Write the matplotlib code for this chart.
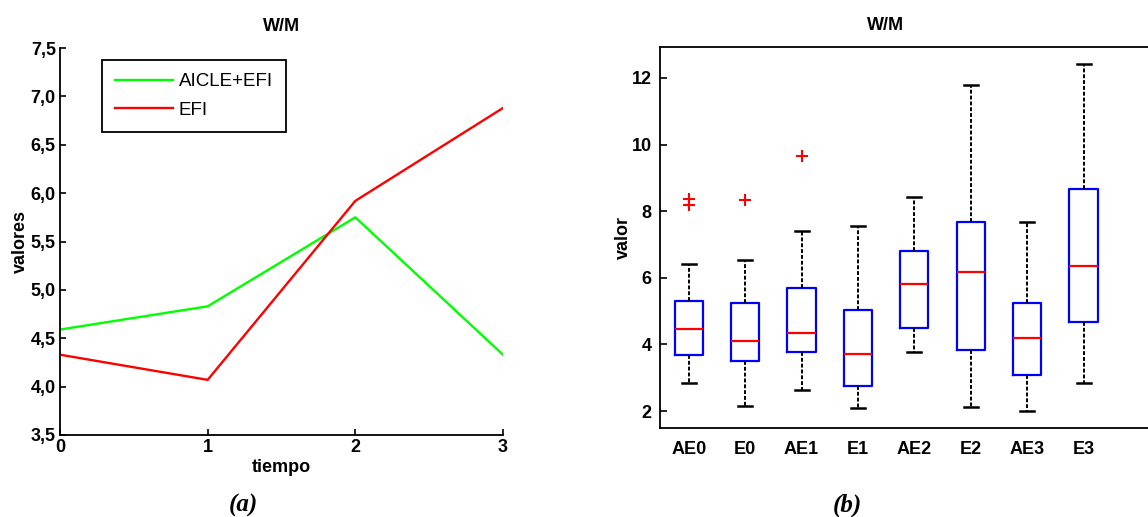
import matplotlib
matplotlib.use("Agg")
import matplotlib.pyplot as plt
from matplotlib.ticker import FuncFormatter

plt.rcParams["font.family"] = ["Liberation Sans", "DejaVu Sans"]

# left panel: mean value per time point
tiempo = [0, 1, 2, 3]
aicle_efi = [4.59, 4.83, 5.75, 4.33]
efi = [4.33, 4.07, 5.92, 6.88]

# right panel: box statistics
groups = ["AE0", "E0", "AE1", "E1", "AE2", "E2", "AE3", "E3"]
whislo = [2.84, 2.16, 2.64, 2.08, 3.76, 2.12, 2.00, 2.84]
q1 = [3.67, 3.49, 3.76, 2.76, 4.48, 3.84, 3.08, 4.68]
med = [4.46, 4.10, 4.35, 3.72, 5.82, 6.18, 4.20, 6.36]
q3 = [5.29, 5.24, 5.68, 5.04, 6.80, 7.69, 5.24, 8.68]
whishi = [6.41, 6.53, 7.41, 7.56, 8.44, 11.80, 7.69, 12.41]
fliers = [[8.20, 8.36], [8.35], [9.65], [], [], [], [], []]

W, H = 1148, 517
fig = plt.figure(figsize=(W / 100, H / 100), dpi=100)


def frac(x0, y_top, x1, y_bot):
    return [x0 / W, 1 - y_bot / H, (x1 - x0) / W, (y_bot - y_top) / H]


bold = dict(fontsize=13, fontweight="bold")

# ---- (a) line chart
ax1 = fig.add_axes(frac(60, 48, 503, 435))
ax1.plot(tiempo, aicle_efi, color=(0, 1, 0), lw=1.7, label="AICLE+EFI")
ax1.plot(tiempo, efi, color=(1, 0, 0), lw=1.7, label="EFI")
ax1.set_xlim(0, 3)
ax1.set_ylim(3.5, 7.5)
ax1.set_xticks(tiempo)
ax1.set_yticks([3.5 + 0.5 * i for i in range(9)])
ax1.yaxis.set_major_formatter(FuncFormatter(lambda v, p: f"{v:.1f}".replace(".", ",")))
for s in ("top", "right"):
    ax1.spines[s].set_visible(False)
for s in ("left", "bottom"):
    ax1.spines[s].set_linewidth(1.3)
ax1.tick_params(direction="in", length=4, width=1.2, labelsize=13, pad=3)
for lab in ax1.get_xticklabels() + ax1.get_yticklabels():
    lab.set_fontweight("bold")
ax1.set_xlabel("tiempo", labelpad=2, **bold)
ax1.set_ylabel("valores", labelpad=1, **bold)
ax1.set_title("W/M", pad=12, **bold)
leg = ax1.legend(loc="upper left", bbox_to_anchor=(102 / W, 1 - 60 / H),
                 bbox_transform=fig.transFigure, borderaxespad=0,
                 fontsize=13.5, handlelength=3.1, handletextpad=0.3,
                 labelspacing=0.6, borderpad=0.7, fancybox=False,
                 framealpha=1, edgecolor="black")
leg.get_frame().set_linewidth(1.3)

# ---- (b) box plot
ax2 = fig.add_axes(frac(660, 47, 1170, 428))
stats = []
for i, g in enumerate(groups):
    stats.append(dict(label=g, whislo=whislo[i], q1=q1[i], med=med[i],
                      q3=q3[i], whishi=whishi[i], fliers=fliers[i]))
ax2.bxp(stats, positions=range(1, len(groups) + 1), widths=0.5,
        showfliers=True,
        boxprops=dict(color="blue", lw=1.6),
        medianprops=dict(color="red", lw=1.6),
        whiskerprops=dict(color="black", lw=1.4, linestyle=(0, (2, 1))),
        capprops=dict(color="black", lw=1.8),
        capwidths=0.25,
        flierprops=dict(marker="+", markeredgecolor="red", markersize=8,
                        markeredgewidth=1.5, linestyle="none"))
ax2.set_xlim(0.49, 0.49 + 510 / 56.4)
ax2.set_ylim(1.49, 12.93)
ax2.set_yticks([2, 4, 6, 8, 10, 12])
for s in ax2.spines.values():
    s.set_linewidth(1.3)
ax2.tick_params(axis="y", direction="in", length=5, width=1.2, labelsize=13, pad=6)
ax2.tick_params(axis="x", length=0, labelsize=13, pad=9)
for lab in ax2.get_xticklabels() + ax2.get_yticklabels():
    lab.set_fontweight("bold")
ax2.set_ylabel("valor", labelpad=0, **bold)
ax2.set_title("W/M", x=(886 - 660) / 510, pad=12, **bold)

cap = dict(fontsize=18, fontweight="bold", fontstyle="italic",
           family=["Liberation Serif", "DejaVu Serif"], ha="center", va="center")
fig.text(243 / W, 1 - 505 / H, "(a)", **cap)
fig.text(847 / W, 1 - 505 / H, "(b)", **cap)

fig.savefig("out.png", dpi=100)
